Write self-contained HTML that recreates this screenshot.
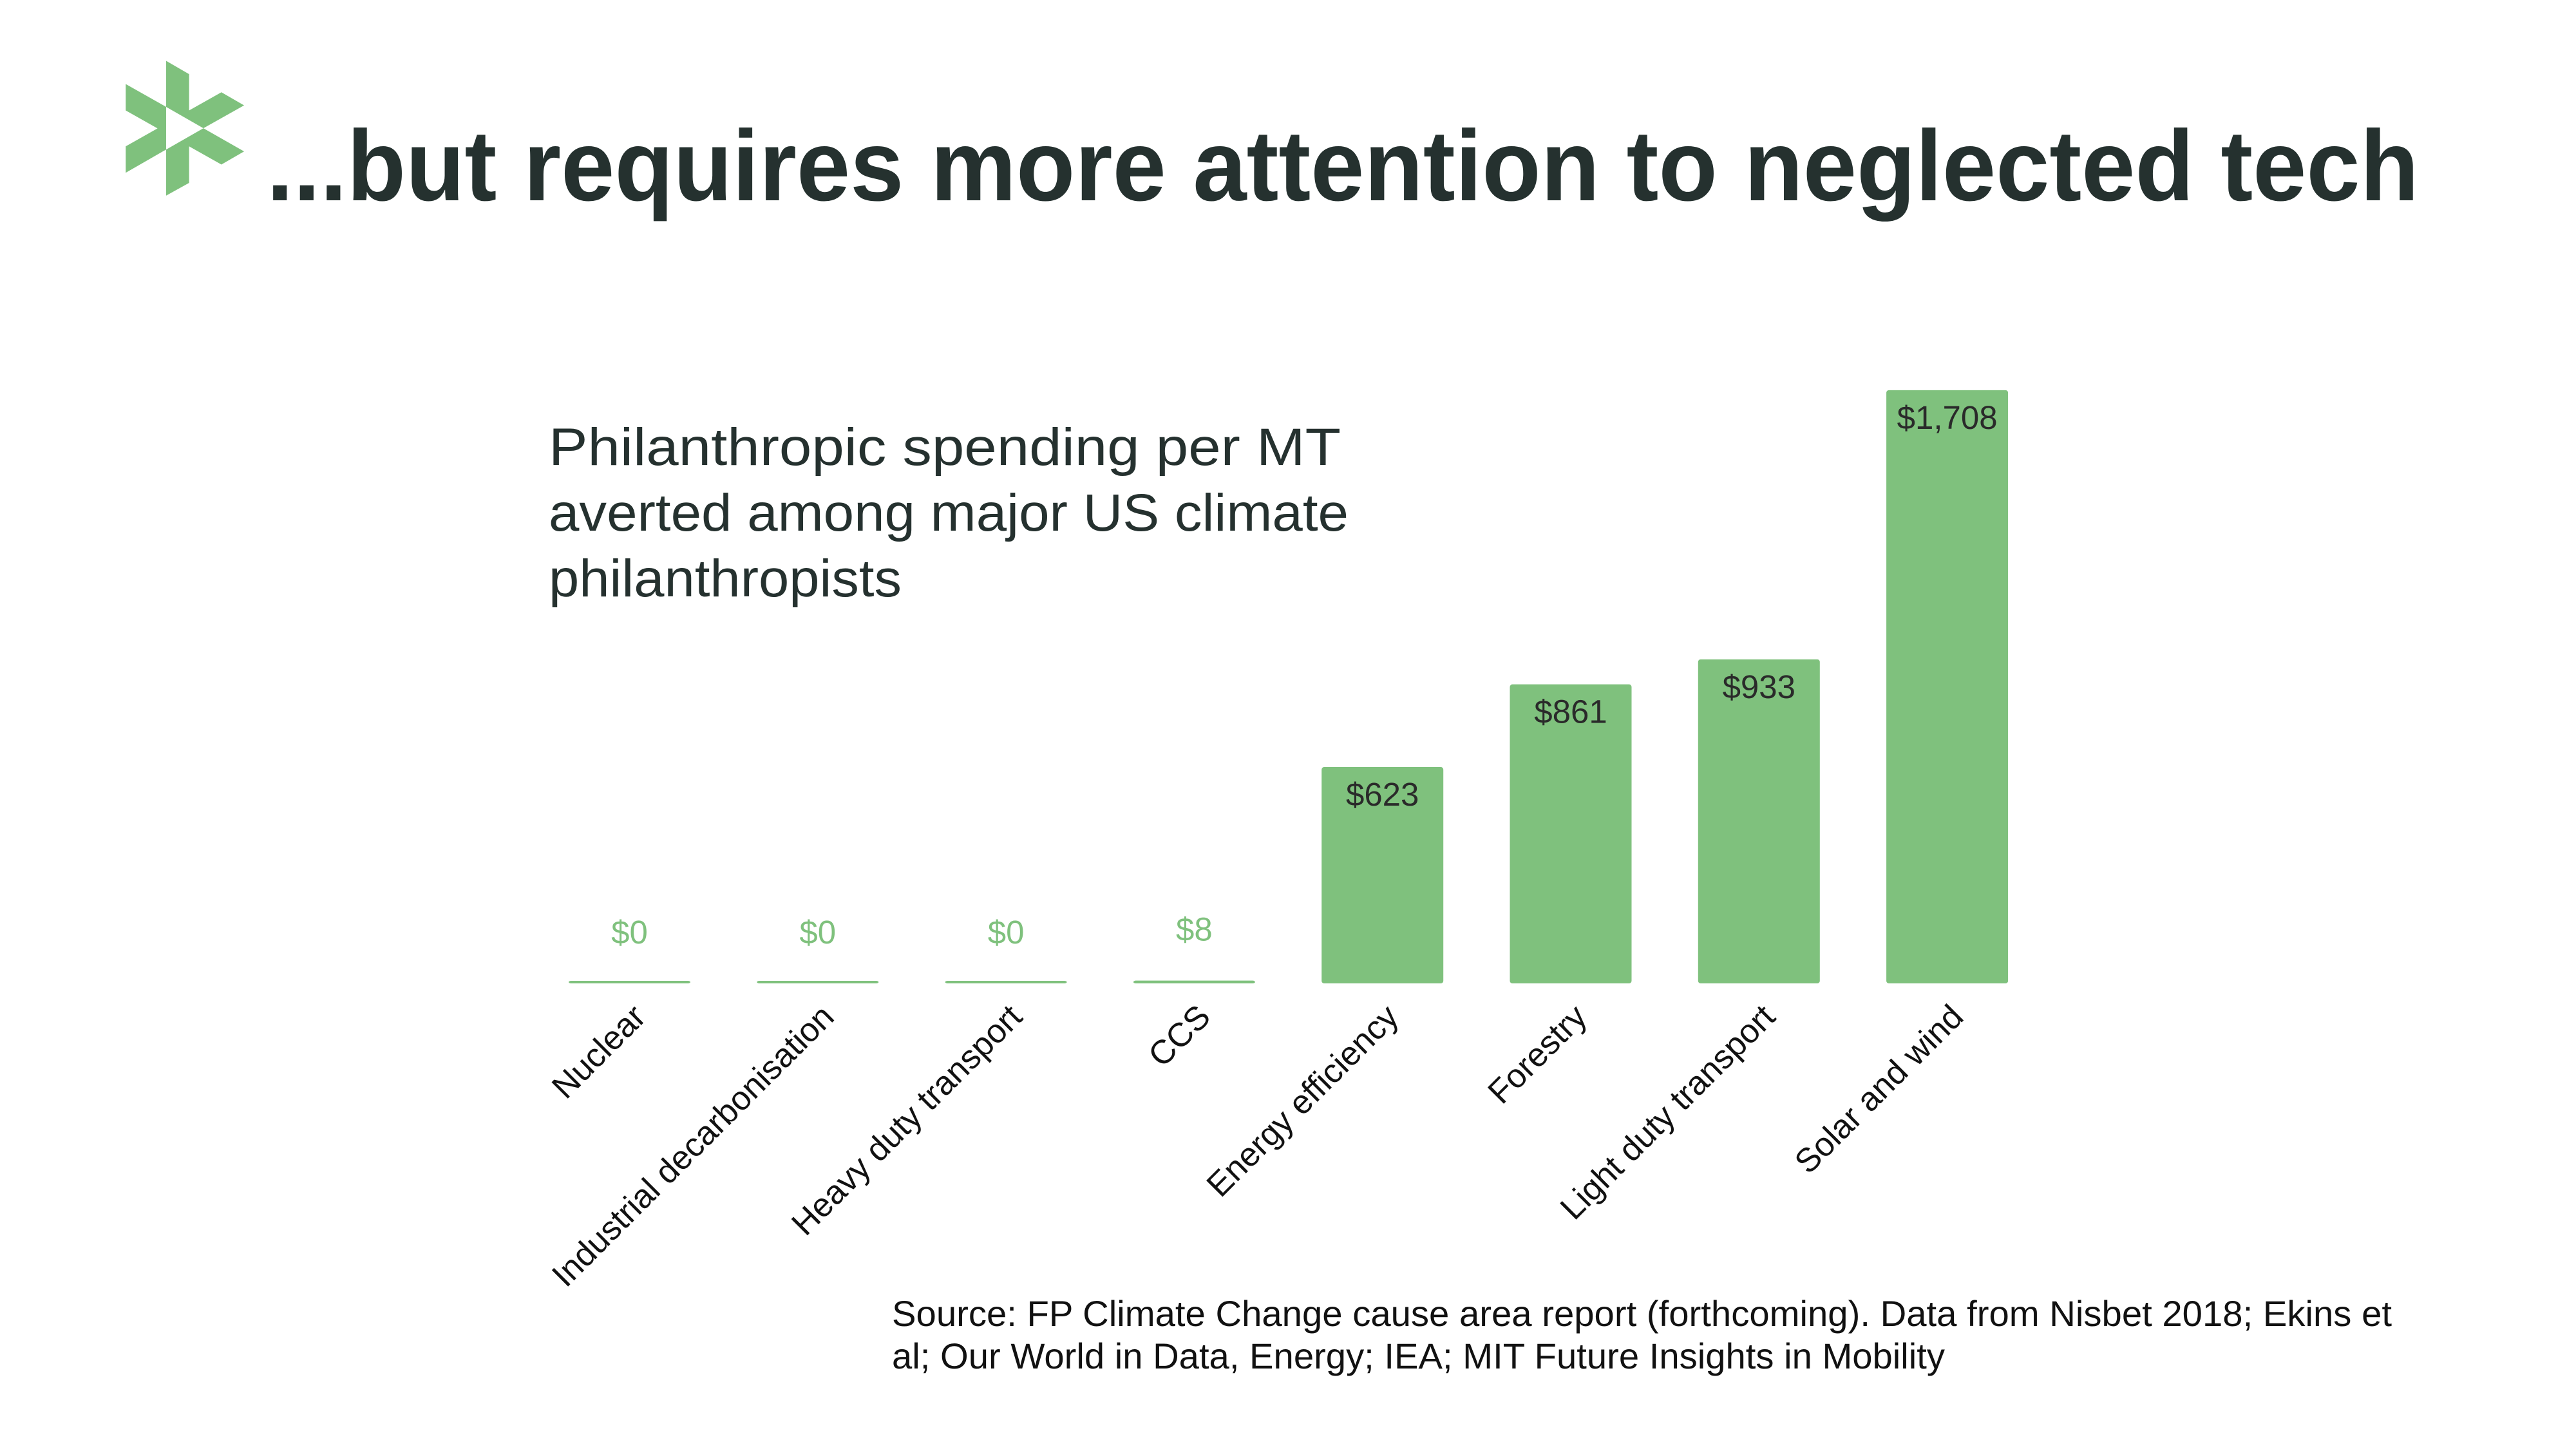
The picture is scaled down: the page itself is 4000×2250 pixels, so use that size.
<!DOCTYPE html>
<html><head><meta charset="utf-8"><style>
html,body{margin:0;padding:0;background:#fff;}
svg{display:block;font-family:"Liberation Sans",sans-serif;}
</style></head><body>
<svg width="4000" height="2250" viewBox="0 0 4000 2250">
<g transform="translate(150,60) scale(0.383,0.328)" fill="#7fc17d">
<polygon points="282,105 375,168 375,340 506,254 598,316 433,424 282,323"/>
<polygon points="118,215 282,323 282,525 118,635 118,510 247,425 118,340"/>
<polygon points="282,525 433,424 598,534 506,596 375,510 375,683 282,743"/>
</g>
<text x="414" y="311" font-size="156" font-weight="bold" fill="#25312f" textLength="3342" lengthAdjust="spacingAndGlyphs">...but requires more attention to neglected tech</text>
<g font-size="82" fill="#25312f">
<text x="852" y="722" textLength="1230" lengthAdjust="spacingAndGlyphs">Philanthropic spending per MT</text>
<text x="852" y="824" textLength="1242" lengthAdjust="spacingAndGlyphs">averted among major US climate</text>
<text x="852" y="926" textLength="548" lengthAdjust="spacingAndGlyphs">philanthropists</text>
</g>
<g id="chart"></g>
<g font-size="56" fill="#111">
<text x="1385" y="2059" textLength="2329" lengthAdjust="spacingAndGlyphs">Source: FP Climate Change cause area report (forthcoming). Data from Nisbet 2018; Ekins et</text>
<text x="1385" y="2125" textLength="1635" lengthAdjust="spacingAndGlyphs">al; Our World in Data, Energy; IEA; MIT Future Insights in Mobility</text>
</g>
</svg>
<script>
const categories = ["Nuclear","Industrial decarbonisation","Heavy duty transport","CCS","Energy efficiency","Forestry","Light duty transport","Solar and wind"];
const values = [0,0,0,8,623,861,933,1708];
const valueLabels = ["$0","$0","$0","$8","$623","$861","$933","$1,708"];
const NS="http://www.w3.org/2000/svg";
const g=document.getElementById('chart');
const baseY=1527, pxPerUnit=0.5393, x0=883, pitch=292.3, bw=189;
function xPos(i){return x0+i*pitch;}
function yPos(v){return baseY-v*pxPerUnit;}
categories.forEach((c,i)=>{
  const v=values[i];
  const top=Math.min(yPos(v),baseY-4);
  const r=document.createElementNS(NS,'rect');
  
  
  r.setAttribute('x',xPos(i));r.setAttribute('y',top);
  r.setAttribute('width',bw);r.setAttribute('height',baseY-top);
  r.setAttribute('rx',4);r.setAttribute('fill','#7fc17d');
  g.appendChild(r);
  const cx=xPos(i)+bw/2;
  const t=document.createElementNS(NS,'text');
  
  
  t.setAttribute('x',cx);t.setAttribute('text-anchor','middle');
  t.setAttribute('font-size','51');
  const inside=(baseY-yPos(v))>100;
  if(inside){t.setAttribute('y',yPos(v)+60);t.setAttribute('fill','#2a2a2a');}
  else{t.setAttribute('y',yPos(v)-62);t.setAttribute('fill','#7fc17d');}
  t.textContent=valueLabels[i];
  g.appendChild(t);
  const l=document.createElementNS(NS,'text');
  
  
  l.setAttribute('font-size','52');l.setAttribute('fill','#111');
  l.setAttribute('text-anchor','end');
  l.setAttribute('transform','translate('+(cx+28)+',1582) rotate(-45)');
  l.textContent=c;
  g.appendChild(l);
});
</script>
</body></html>
